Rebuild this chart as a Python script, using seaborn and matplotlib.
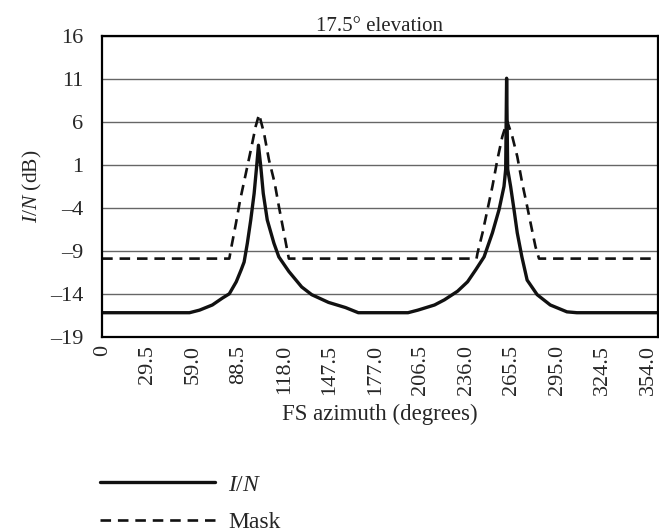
import numpy as np
import pandas as pd
import seaborn as sns
import matplotlib.pyplot as plt
from matplotlib.ticker import FixedLocator, FixedFormatter

# values
in_az = [0, 56.6, 63.1, 71.4, 77.9, 82.4, 86.9, 90.1, 92.0, 94.1, 96.3, 98.5,
         100.2, 101.3, 102.8, 104.4, 107.0, 111.3, 114.5, 121.0, 129.3, 135.8,
         146.7, 157.7, 166.0, 198.2, 204.6, 215.4, 221.8, 230.3, 236.8, 242.1,
         247.5, 252.9, 257.2, 260.4, 261.5, 262.1, 262.8, 264.7, 266.9, 269.0,
         272.0, 275.4, 281.9, 290.4, 301.2, 307.6, 360.0]
in_db = [-16.2, -16.2, -15.9, -15.3, -14.5, -14.0, -12.6, -11.2, -10.3, -8.1, -5.4, -2.3,
         1.0, 3.3, 0.8, -2.3, -5.4, -8.1, -9.7, -11.4, -13.2, -14.1,
         -15.0, -15.6, -16.2, -16.2, -15.9, -15.3, -14.7, -13.7, -12.6, -11.2,
         -9.7, -6.9, -4.2, -1.5, 0.5, 11.1, 0.5, -1.5, -4.2, -6.9,
         -9.7, -12.4, -14.1, -15.3, -16.1, -16.2, -16.2]

mask_az = [0, 82.4, 83.8, 86.7, 89.4, 93.1, 96.3, 99.5, 101.7, 104.9, 108.1, 111.8,
           114.5, 117.8, 119.9, 121.0, 242.6, 243.2, 246.5, 249.7, 252.9, 256.1,
           259.3, 262.5, 265.8, 269.0, 272.2, 275.4, 278.6, 280.8, 283.1, 360.0]
mask_db = [-9.9, -9.9, -8.5, -5.8, -3.1, 0.0, 2.7, 5.5, 6.9, 4.7, 1.6, -1.1,
           -3.8, -6.9, -8.9, -9.9, -9.9, -9.3, -6.9, -4.2, -1.5, 1.6,
           4.3, 6.1, 4.3, 2.0, -1.1, -3.8, -6.6, -8.5, -9.9, -9.9]

x_ticks = [0, 29.5, 59.0, 88.5, 118.0, 147.5, 177.0, 206.5, 236.0, 265.5, 295.0, 324.5, 354.0]
x_labels = ['0'] + [f'{t:.1f}' for t in x_ticks[1:]]
y_ticks = [-19, -14, -9, -4, 1, 6, 11, 16]

sns.set_style('white')
plt.rcParams['font.family'] = ['Liberation Serif', 'DejaVu Serif']
plt.rcParams['mathtext.fontset'] = 'custom'
plt.rcParams['mathtext.rm'] = 'Liberation Serif'
plt.rcParams['mathtext.it'] = 'Liberation Serif:italic'

fig = plt.figure(figsize=(6.59, 5.32), dpi=100)
ax = fig.add_axes([0.155, 0.367, 0.843, 0.565])

df_in = pd.DataFrame({'az': in_az, 'db': in_db})
df_mask = pd.DataFrame({'az': mask_az, 'db': mask_db})

sns.lineplot(data=df_in, x='az', y='db', ax=ax, color='#111111', lw=2.4,
             label='$I/N$', estimator=None)
sns.lineplot(data=df_mask, x='az', y='db', ax=ax, color='#111111', lw=1.9,
             linestyle=(0, (4, 2.6)), label='Mask', estimator=None)

ax.set_xlim(0, 360)
ax.set_ylim(-19, 16)
ax.xaxis.set_major_locator(FixedLocator(x_ticks))
ax.xaxis.set_major_formatter(FixedFormatter(x_labels))
ax.set_yticks(y_ticks)
ax.set_yticklabels([str(v).replace('-', '\u2013') for v in y_ticks])
ax.tick_params(axis='x', labelrotation=90, length=0, labelsize=16, pad=6)
ax.tick_params(axis='y', length=0, labelsize=16, pad=13.5)
ax.yaxis.grid(True, color='#666666', lw=1)
ax.xaxis.grid(False)
for s in ax.spines.values():
    s.set_color('black')
    s.set_linewidth(1.6)

ax.set_xlabel('FS azimuth (degrees)', fontsize=16.5, labelpad=6)
ax.set_ylabel('$I/N$ (dB)', fontsize=15.5, labelpad=4)
ax.set_title('17.5\u00b0 elevation', fontsize=15, pad=4)

handles, labels = ax.get_legend_handles_labels()
ax.get_legend().remove()
fig.legend(handles, labels, loc='upper left', bbox_to_anchor=(0.119, 0.149),
           frameon=False, fontsize=17, handlelength=4.9, handletextpad=0.55,
           labelspacing=0.68)

fig.savefig('out.png', dpi=100)
